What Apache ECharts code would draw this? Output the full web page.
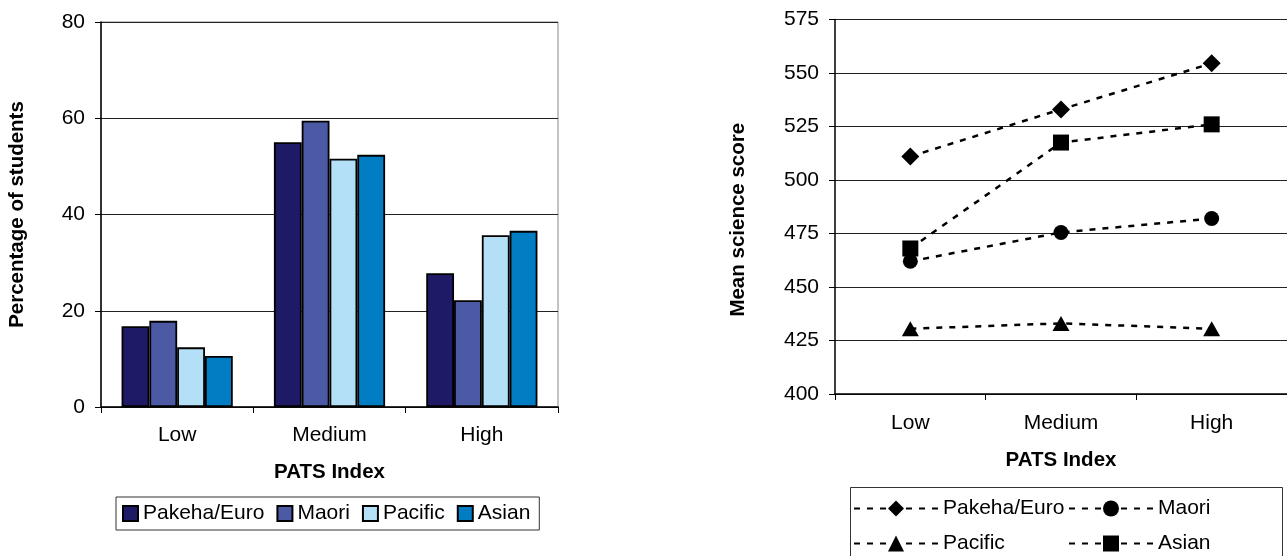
<!DOCTYPE html>
<html>
<head>
<meta charset="utf-8">
<script src="https://cdn.jsdelivr.net/npm/echarts@6/dist/echarts.min.js"></script>
<style>
  html, body { margin: 0; padding: 0; background: #fff; }
  #chart { width: 1287px; height: 556px; }
</style>
</head>
<body>
<div id="chart"></div>
<script>
// PATS index bands shared by both panels
const categories = ['Low', 'Medium', 'High'];

// Left panel: percentage of students in each PATS band, by ethnic group
const pctPakeha = [16.8, 55.0, 27.8];
const pctMaori = [17.9, 59.5, 22.2];
const pctPacific = [12.4, 51.6, 35.7];
const pctAsian = [10.6, 52.4, 36.6];

// Right panel: mean science score in each PATS band, by ethnic group
const scorePakeha = [511, 533, 554.5];
const scoreMaori = [462, 475.5, 482];
const scorePacific = [430.5, 433, 430.5];
const scoreAsian = [468, 517.5, 526];

const groupNames = ['Pakeha/Euro', 'Maori', 'Pacific', 'Asian'];
const barColors = ['#1f1a66', '#4c5aa6', '#b3e0f7', '#007dc3'];
const markerShapes = ['diamond', 'circle', 'triangle', 'rect'];
const markerSizes = [18, 15, [17, 15], 16];

const FONT = 'Liberation Sans, Arial, sans-serif';
const axisText = { color: '#000', fontFamily: FONT, fontSize: 21 };
const titleText = { color: '#000', fontFamily: FONT, fontSize: 20.5, fontWeight: 'bold' };

const chart = echarts.init(document.getElementById('chart'), null, { renderer: 'canvas' });

const barSeries = [pctPakeha, pctMaori, pctPacific, pctAsian].map((vals, i) => ({
  name: groupNames[i],
  type: 'bar',
  xAxisIndex: 0,
  yAxisIndex: 0,
  data: vals,
  barGap: '0%',
  barCategoryGap: '27%',
  itemStyle: { color: barColors[i], borderColor: '#000', borderWidth: 1.8 },
  emphasis: { disabled: true }
}));

const lineSeries = [scorePakeha, scoreMaori, scorePacific, scoreAsian].map((vals, i) => ({
  name: groupNames[i] + ' ',
  type: 'line',
  xAxisIndex: 1,
  yAxisIndex: 1,
  data: vals,
  symbol: markerShapes[i],
  symbolSize: markerSizes[i],
  showAllSymbol: true,
  lineStyle: { color: '#000', width: 2.5, type: [6, 7] },
  itemStyle: { color: '#000' },
  emphasis: { disabled: true }
}));

const option = {
  backgroundColor: '#fff',
  animation: false,
  textStyle: { fontFamily: FONT },
  grid: [
    { left: 101, top: 22, width: 457, height: 385, show: true, borderColor: '#888', borderWidth: 1, backgroundColor: 'transparent' },
    { left: 835, top: 19.5, width: 452, height: 374.5 }
  ],
  xAxis: [
    {
      type: 'category', gridIndex: 0, data: categories,
      name: 'PATS Index', nameLocation: 'middle', nameGap: 55, nameTextStyle: titleText,
      axisLine: { lineStyle: { color: '#000', width: 1.5 } },
      axisTick: { show: true, alignWithLabel: false, length: 6, lineStyle: { color: '#000' } },
      axisLabel: Object.assign({ margin: 18 }, axisText)
    },
    {
      type: 'category', gridIndex: 1, data: categories, boundaryGap: true,
      name: 'PATS Index', nameLocation: 'middle', nameGap: 56, nameTextStyle: titleText,
      axisLine: { lineStyle: { color: '#000', width: 1.5 } },
      axisTick: { show: true, alignWithLabel: false, length: 6, lineStyle: { color: '#000' } },
      axisLabel: Object.assign({ margin: 19 }, axisText)
    }
  ],
  yAxis: [
    {
      type: 'value', gridIndex: 0, min: 0, max: 80, interval: 20,
      name: 'Percentage of students', nameLocation: 'middle', nameGap: 73, nameTextStyle: titleText,
      axisLine: { show: true, lineStyle: { color: '#000', width: 1.5 } },
      axisTick: { show: true, length: 6, lineStyle: { color: '#000' } },
      axisLabel: Object.assign({ margin: 16 }, axisText),
      splitLine: { show: true, lineStyle: { color: '#222', width: 1.2 } }
    },
    {
      type: 'value', gridIndex: 1, min: 400, max: 575, interval: 25,
      name: 'Mean science score', nameLocation: 'middle', nameGap: 86,
      nameTextStyle: Object.assign({ padding: [0, 26, 0, 0] }, titleText),
      axisLine: { show: true, lineStyle: { color: '#000', width: 1.5 } },
      axisTick: { show: true, length: 6, lineStyle: { color: '#000' } },
      axisLabel: Object.assign({ margin: 16 }, axisText),
      splitLine: { show: true, lineStyle: { color: '#222', width: 1.2 } }
    }
  ],
  legend: [
    {
      data: groupNames,
      left: 116, top: 497,
      orient: 'horizontal',
      icon: 'rect',
      itemWidth: 15, itemHeight: 15, itemGap: 12,
      padding: [6, 9, 6, 6],
      borderColor: '#333', borderWidth: 1,
      textStyle: axisText,
      selectedMode: false
    },
    {
      data: [groupNames[0] + ' ', groupNames[2] + ' '],
      left: 853, top: 498,
      orient: 'vertical',
      itemWidth: 84, itemHeight: 20, itemGap: 14,
      padding: 0,
      textStyle: axisText,
      selectedMode: false
    },
    {
      data: [groupNames[1] + ' ', groupNames[3] + ' '],
      left: 1068, top: 498,
      orient: 'vertical',
      itemWidth: 84, itemHeight: 20, itemGap: 14,
      padding: 0,
      textStyle: axisText,
      selectedMode: false
    }
  ],
  graphic: [
    {
      type: 'rect', silent: true, z: 100,
      shape: { x: 850.5, y: 487.5, width: 432, height: 80 },
      style: { fill: 'none', stroke: '#333', lineWidth: 1 }
    }
  ],
  series: barSeries.concat(lineSeries)
};

chart.setOption(option);
</script>
</body>
</html>
